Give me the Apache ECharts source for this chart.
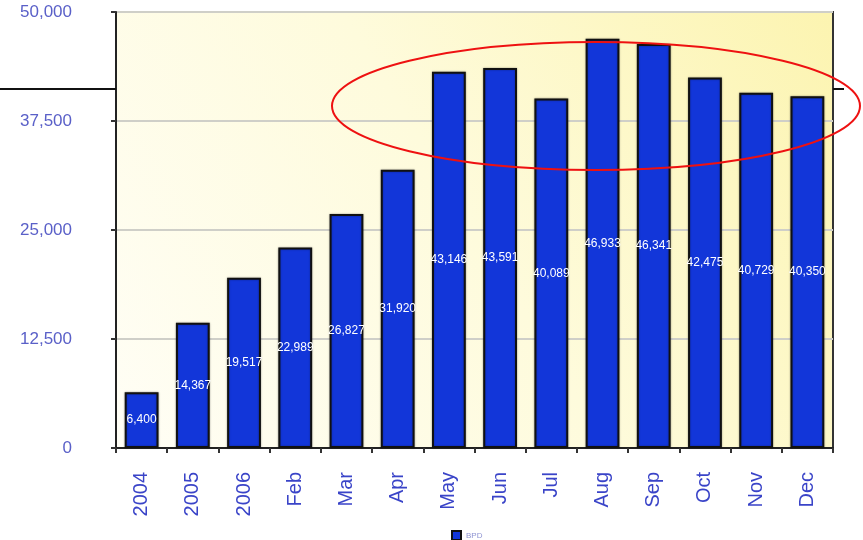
<!DOCTYPE html>
<html>
<head>
<meta charset="utf-8">
<script src="https://cdn.jsdelivr.net/npm/echarts@6/dist/echarts.min.js"></script>
<style>
  html, body { margin: 0; padding: 0; background: #fff; }
  #chart { width: 863px; height: 540px; }
</style>
</head>
<body>
<div id="chart"></div>
<script>
// categories along the x axis
const categories = ['2004', '2005', '2006', 'Feb', 'Mar', 'Apr', 'May', 'Jun', 'Jul', 'Aug', 'Sep', 'Oct', 'Nov', 'Dec'];
// barrels per day
const bpdValues = [6400, 14367, 19517, 22989, 26827, 31920, 43146, 43591, 40089, 46933, 46341, 42475, 40729, 40350];
const seriesName = 'BPD';

const chart = echarts.init(document.getElementById('chart'));

const option = {
  backgroundColor: '#ffffff',
  animation: false,
  textStyle: { fontFamily: 'Liberation Sans, Arial, sans-serif' },
  grid: {
    left: 116,
    right: 30,
    top: 12,
    bottom: 92,
    show: true,
    borderColor: '#333',
    borderWidth: 2,
    // pale yellow gradient behind the bars
    backgroundColor: new echarts.graphic.LinearGradient(0, 1, 1, 0, [
      { offset: 0, color: '#fffef6' },
      { offset: 0.5, color: '#fefbdc' },
      { offset: 1, color: '#fcf4b0' }
    ])
  },
  legend: {
    left: 446,
    top: 525,
    itemWidth: 9,
    itemHeight: 9,
    itemGap: 4,
    icon: 'rect',
    textStyle: { fontSize: 8, color: '#8f94d2' },
    data: [seriesName]
  },
  xAxis: {
    type: 'category',
    data: categories,
    axisLine: { lineStyle: { color: '#222', width: 2 } },
    axisTick: { show: true, alignWithLabel: false, length: 5, lineStyle: { color: '#333', width: 2 } },
    axisLabel: {
      rotate: 90,
      margin: 24,
      fontSize: 20,
      color: '#3a44c8'
    },
    splitLine: { show: false }
  },
  yAxis: {
    type: 'value',
    min: 0,
    max: 50000,
    interval: 12500,
    axisLine: { show: true, lineStyle: { color: '#222', width: 2 } },
    axisTick: { show: true, length: 5, lineStyle: { color: '#333', width: 2 } },
    axisLabel: {
      margin: 44,
      fontSize: 17,
      color: '#5a60c8',
      formatter: v => v.toLocaleString('en-US')
    },
    splitLine: { show: true, lineStyle: { color: '#cfcfc8', width: 2 } }
  },
  series: [
    {
      name: seriesName,
      type: 'bar',
      data: bpdValues,
      barWidth: '66%',
      itemStyle: {
        color: '#1236d9',
        borderColor: '#111',
        borderWidth: 2,
        shadowColor: 'rgba(0,0,0,0.35)',
        shadowBlur: 2
      },
      label: {
        show: true,
        position: 'inside',
        color: '#ffffff',
        fontSize: 12,
        formatter: p => p.value.toLocaleString('en-US')
      }
    }
  ],
  graphic: [
    // black reference line poking out either side of the plot
    {
      type: 'line',
      shape: { x1: 0, y1: 89, x2: 116, y2: 89 },
      style: { stroke: '#111', lineWidth: 2 },
      z: 10
    },
    {
      type: 'line',
      shape: { x1: 833, y1: 89, x2: 844, y2: 89 },
      style: { stroke: '#111', lineWidth: 2 },
      z: 10
    },
    // red highlight ellipse
    {
      type: 'ellipse',
      shape: { cx: 596, cy: 106, rx: 264, ry: 64 },
      style: { fill: null, stroke: '#ee1111', lineWidth: 2 },
      z: 20
    }
  ]
};

chart.setOption(option);
</script>
</body>
</html>
